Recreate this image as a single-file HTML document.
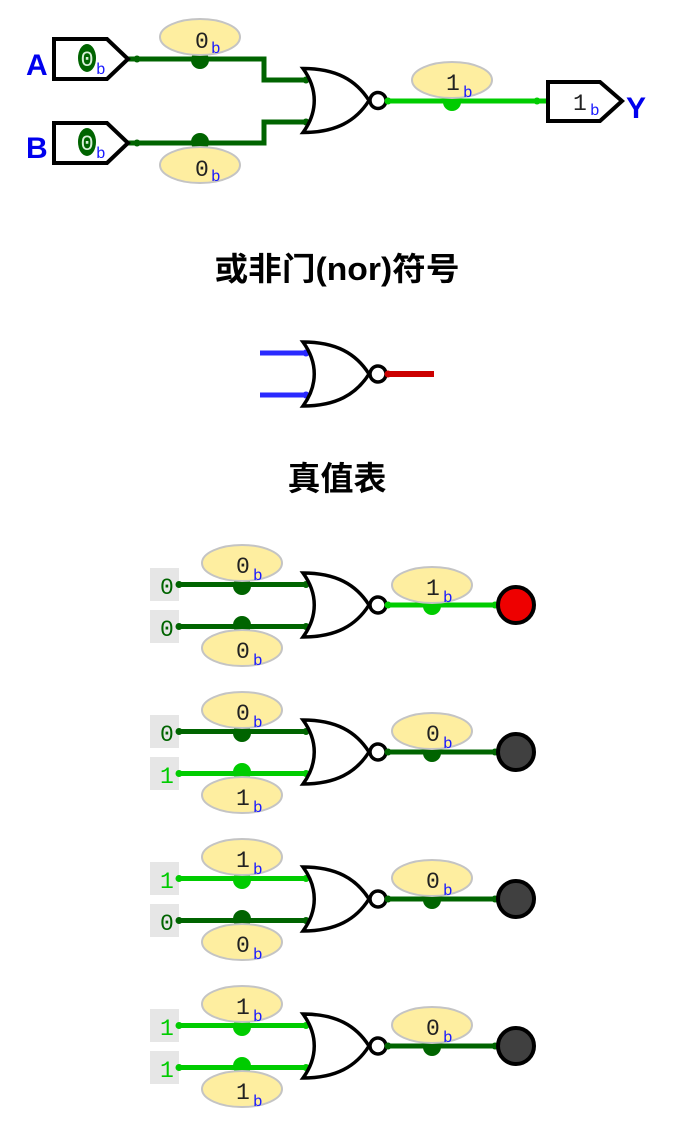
<!DOCTYPE html>
<html><head><meta charset="utf-8">
<style>
html,body{margin:0;padding:0;background:#fff;}
svg{display:block;}
.mono{font-family:"Liberation Mono",monospace;}
.ell{fill:#feeea0;stroke:#c4c4c4;stroke-width:2;}
.dk{stroke:#006400;stroke-width:5;fill:none;}
.lt{stroke:#00cc00;stroke-width:5;fill:none;}
.gate{fill:#fff;stroke:#000;stroke-width:3.5;stroke-linejoin:miter;}
.bub{fill:#fff;stroke:#000;stroke-width:3.5;}
.v{font-family:"Liberation Mono",monospace;font-size:23px;fill:#222;}
.s{font-family:"Liberation Mono",monospace;font-size:16px;fill:#1a1aff;}
.in{font-family:"Liberation Mono",monospace;font-size:23px;}
</style></head>
<body>
<svg width="673" height="1133" viewBox="0 0 673 1133" xmlns="http://www.w3.org/2000/svg">
<defs>
  <g id="gate">
    <path class="gate" d="M303,68.5 C336,68.5 356,80 369,100.5 C356,121 336,132.5 303,132.5 C318,112 318,89 303,68.5 Z"/>
    <circle class="bub" cx="378" cy="100.5" r="8"/>
  </g>
</defs>

<!-- ===== Top circuit ===== -->
<text x="26" y="75" font-family="Liberation Sans, sans-serif" font-weight="bold" font-size="30" fill="#0000ee">A</text>
<text x="26" y="158" font-family="Liberation Sans, sans-serif" font-weight="bold" font-size="30" fill="#0000ee">B</text>

<polyline class="dk" points="128,59 264,59 264,80 306,80"/>
<polyline class="dk" points="128,143 264,143 264,122 306,122"/>
<circle cx="137" cy="59" r="3.5" fill="#006400"/>
<circle cx="137" cy="143" r="3.5" fill="#006400"/>
<circle cx="306" cy="80" r="3.5" fill="#006400"/>
<circle cx="306" cy="122" r="3.5" fill="#006400"/>
<circle cx="200" cy="60" r="9" fill="#006400"/>
<circle cx="200" cy="142" r="9" fill="#006400"/>

<polygon points="54,39 107,39 128,59 107,79 54,79" fill="#fff" stroke="#000" stroke-width="4" stroke-linejoin="miter"/>
<ellipse cx="87" cy="58" rx="9" ry="14" fill="#006400"/>
<text x="80.5" y="66" class="mono" font-size="22" fill="#d8f0d8">0</text>
<text x="96" y="74" class="s" font-size="15">b</text>

<polygon points="54,123 107,123 128,143 107,163 54,163" fill="#fff" stroke="#000" stroke-width="4" stroke-linejoin="miter"/>
<ellipse cx="87" cy="142" rx="9" ry="14" fill="#006400"/>
<text x="80.5" y="150" class="mono" font-size="22" fill="#d8f0d8">0</text>
<text x="96" y="158" class="s" font-size="15">b</text>

<ellipse class="ell" cx="200" cy="37" rx="40" ry="18"/>
<text x="195" y="48" class="v">0</text><text x="211" y="53" class="s">b</text>
<ellipse class="ell" cx="200" cy="165" rx="40" ry="18"/>
<text x="195" y="176" class="v">0</text><text x="211" y="181" class="s">b</text>

<use href="#gate"/>

<line class="lt" x1="388" y1="101" x2="548" y2="101"/>
<circle cx="388" cy="101" r="3.5" fill="#00cc00"/>
<circle cx="537" cy="101" r="3.5" fill="#00cc00"/>
<circle cx="452" cy="102" r="9" fill="#00cc00"/>
<ellipse class="ell" cx="452" cy="80" rx="40" ry="18"/>
<text x="446" y="90" class="v">1</text><text x="463" y="97" class="s">b</text>

<polygon points="548,82 600,82 622,101 600,121 548,121" fill="#fff" stroke="#000" stroke-width="4" stroke-linejoin="miter"/>
<text x="573" y="110" class="v">1</text><text x="590" y="115" class="s">b</text>
<text x="626" y="118" font-family="Liberation Sans, sans-serif" font-weight="bold" font-size="30" fill="#0000ee">Y</text>

<!-- ===== Titles ===== -->
<text x="337" y="280" text-anchor="middle" font-family="Liberation Sans, 'Noto Sans CJK SC', sans-serif" font-weight="bold" font-size="32" fill="#000" textLength="245" lengthAdjust="spacingAndGlyphs">或非门(nor)符号</text>

<line x1="260" y1="353" x2="307" y2="353" stroke="#2a2aff" stroke-width="5"/>
<line x1="260" y1="395" x2="307" y2="395" stroke="#2a2aff" stroke-width="5"/>
<circle cx="306" cy="353" r="3.5" fill="#2a2aff"/>
<circle cx="306" cy="395" r="3.5" fill="#2a2aff"/>
<use href="#gate" transform="translate(0,273.5)"/>
<line x1="387" y1="374" x2="434" y2="374" stroke="#cc0000" stroke-width="6"/>
<circle cx="388" cy="374" r="3.5" fill="#cc0000"/>

<text x="337" y="490" text-anchor="middle" font-family="Liberation Sans, 'Noto Sans CJK SC', sans-serif" font-weight="bold" font-size="33" fill="#000">真值表</text>

<!-- ===== Truth table rows ===== -->
<!-- Row 1: 0,0 -> 1 -->
<g>
  <rect x="150" y="568" width="29" height="33" fill="#e6e6e6"/>
  <rect x="150" y="610" width="29" height="33" fill="#e6e6e6"/>
  <text x="160" y="594" class="in" fill="#006400">0</text>
  <text x="160" y="636" class="in" fill="#006400">0</text>
  <circle cx="242" cy="586" r="9" fill="#006400"/>
  <circle cx="242" cy="625" r="9" fill="#006400"/>
  <line class="dk" x1="179" y1="584.5" x2="306" y2="584.5"/>
  <line class="dk" x1="179" y1="626.5" x2="306" y2="626.5"/>
  <circle cx="179" cy="584.5" r="3.5" fill="#006400"/><circle cx="306" cy="584.5" r="3.5" fill="#006400"/>
  <circle cx="179" cy="626.5" r="3.5" fill="#006400"/><circle cx="306" cy="626.5" r="3.5" fill="#006400"/>
  <ellipse class="ell" cx="242" cy="563" rx="40" ry="18"/>
  <text x="236" y="573" class="v">0</text><text x="253" y="580" class="s">b</text>
  <ellipse class="ell" cx="242" cy="648" rx="40" ry="18"/>
  <text x="236" y="658" class="v">0</text><text x="253" y="665" class="s">b</text>
  <use href="#gate" transform="translate(0,504.5)"/>
  <circle cx="432" cy="606" r="9" fill="#00cc00"/>
  <line class="lt" x1="388" y1="605" x2="495" y2="605"/>
  <circle cx="388" cy="605" r="3.5" fill="#00cc00"/><circle cx="495" cy="605" r="3.5" fill="#00cc00"/>
  <ellipse class="ell" cx="432" cy="585" rx="40" ry="18"/>
  <text x="426" y="595" class="v">1</text><text x="443" y="602" class="s">b</text>
  <circle cx="516" cy="605" r="18" fill="#ee0000" stroke="#000" stroke-width="4"/>
</g>

<!-- Row 2: 0,1 -> 0 -->
<g transform="translate(0,147)">
  <rect x="150" y="568" width="29" height="33" fill="#e6e6e6"/>
  <rect x="150" y="610" width="29" height="33" fill="#e6e6e6"/>
  <text x="160" y="594" class="in" fill="#006400">0</text>
  <text x="160" y="636" class="in" fill="#00cc00">1</text>
  <circle cx="242" cy="586" r="9" fill="#006400"/>
  <circle cx="242" cy="625" r="9" fill="#00cc00"/>
  <line class="dk" x1="179" y1="584.5" x2="306" y2="584.5"/>
  <line class="lt" x1="179" y1="626.5" x2="306" y2="626.5"/>
  <circle cx="179" cy="584.5" r="3.5" fill="#006400"/><circle cx="306" cy="584.5" r="3.5" fill="#006400"/>
  <circle cx="179" cy="626.5" r="3.5" fill="#00cc00"/><circle cx="306" cy="626.5" r="3.5" fill="#00cc00"/>
  <ellipse class="ell" cx="242" cy="563" rx="40" ry="18"/>
  <text x="236" y="573" class="v">0</text><text x="253" y="580" class="s">b</text>
  <ellipse class="ell" cx="242" cy="648" rx="40" ry="18"/>
  <text x="236" y="658" class="v">1</text><text x="253" y="665" class="s">b</text>
  <use href="#gate" transform="translate(0,504.5)"/>
  <circle cx="432" cy="606" r="9" fill="#006400"/>
  <line class="dk" x1="388" y1="605" x2="495" y2="605"/>
  <circle cx="388" cy="605" r="3.5" fill="#006400"/><circle cx="495" cy="605" r="3.5" fill="#006400"/>
  <ellipse class="ell" cx="432" cy="584" rx="40" ry="18"/>
  <text x="426" y="594" class="v">0</text><text x="443" y="601" class="s">b</text>
  <circle cx="516" cy="605" r="18" fill="#404040" stroke="#000" stroke-width="4"/>
</g>

<!-- Row 3: 1,0 -> 0 -->
<g transform="translate(0,294)">
  <rect x="150" y="568" width="29" height="33" fill="#e6e6e6"/>
  <rect x="150" y="610" width="29" height="33" fill="#e6e6e6"/>
  <text x="160" y="594" class="in" fill="#00cc00">1</text>
  <text x="160" y="636" class="in" fill="#006400">0</text>
  <circle cx="242" cy="586" r="9" fill="#00cc00"/>
  <circle cx="242" cy="625" r="9" fill="#006400"/>
  <line class="lt" x1="179" y1="584.5" x2="306" y2="584.5"/>
  <line class="dk" x1="179" y1="626.5" x2="306" y2="626.5"/>
  <circle cx="179" cy="584.5" r="3.5" fill="#00cc00"/><circle cx="306" cy="584.5" r="3.5" fill="#00cc00"/>
  <circle cx="179" cy="626.5" r="3.5" fill="#006400"/><circle cx="306" cy="626.5" r="3.5" fill="#006400"/>
  <ellipse class="ell" cx="242" cy="563" rx="40" ry="18"/>
  <text x="236" y="573" class="v">1</text><text x="253" y="580" class="s">b</text>
  <ellipse class="ell" cx="242" cy="648" rx="40" ry="18"/>
  <text x="236" y="658" class="v">0</text><text x="253" y="665" class="s">b</text>
  <use href="#gate" transform="translate(0,504.5)"/>
  <circle cx="432" cy="606" r="9" fill="#006400"/>
  <line class="dk" x1="388" y1="605" x2="495" y2="605"/>
  <circle cx="388" cy="605" r="3.5" fill="#006400"/><circle cx="495" cy="605" r="3.5" fill="#006400"/>
  <ellipse class="ell" cx="432" cy="584" rx="40" ry="18"/>
  <text x="426" y="594" class="v">0</text><text x="443" y="601" class="s">b</text>
  <circle cx="516" cy="605" r="18" fill="#404040" stroke="#000" stroke-width="4"/>
</g>

<!-- Row 4: 1,1 -> 0 -->
<g transform="translate(0,441)">
  <rect x="150" y="568" width="29" height="33" fill="#e6e6e6"/>
  <rect x="150" y="610" width="29" height="33" fill="#e6e6e6"/>
  <text x="160" y="594" class="in" fill="#00cc00">1</text>
  <text x="160" y="636" class="in" fill="#00cc00">1</text>
  <circle cx="242" cy="586" r="9" fill="#00cc00"/>
  <circle cx="242" cy="625" r="9" fill="#00cc00"/>
  <line class="lt" x1="179" y1="584.5" x2="306" y2="584.5"/>
  <line class="lt" x1="179" y1="626.5" x2="306" y2="626.5"/>
  <circle cx="179" cy="584.5" r="3.5" fill="#00cc00"/><circle cx="306" cy="584.5" r="3.5" fill="#00cc00"/>
  <circle cx="179" cy="626.5" r="3.5" fill="#00cc00"/><circle cx="306" cy="626.5" r="3.5" fill="#00cc00"/>
  <ellipse class="ell" cx="242" cy="563" rx="40" ry="18"/>
  <text x="236" y="573" class="v">1</text><text x="253" y="580" class="s">b</text>
  <ellipse class="ell" cx="242" cy="648" rx="40" ry="18"/>
  <text x="236" y="658" class="v">1</text><text x="253" y="665" class="s">b</text>
  <use href="#gate" transform="translate(0,504.5)"/>
  <circle cx="432" cy="606" r="9" fill="#006400"/>
  <line class="dk" x1="388" y1="605" x2="495" y2="605"/>
  <circle cx="388" cy="605" r="3.5" fill="#006400"/><circle cx="495" cy="605" r="3.5" fill="#006400"/>
  <ellipse class="ell" cx="432" cy="584" rx="40" ry="18"/>
  <text x="426" y="594" class="v">0</text><text x="443" y="601" class="s">b</text>
  <circle cx="516" cy="605" r="18" fill="#404040" stroke="#000" stroke-width="4"/>
</g>
</svg>
</body></html>
